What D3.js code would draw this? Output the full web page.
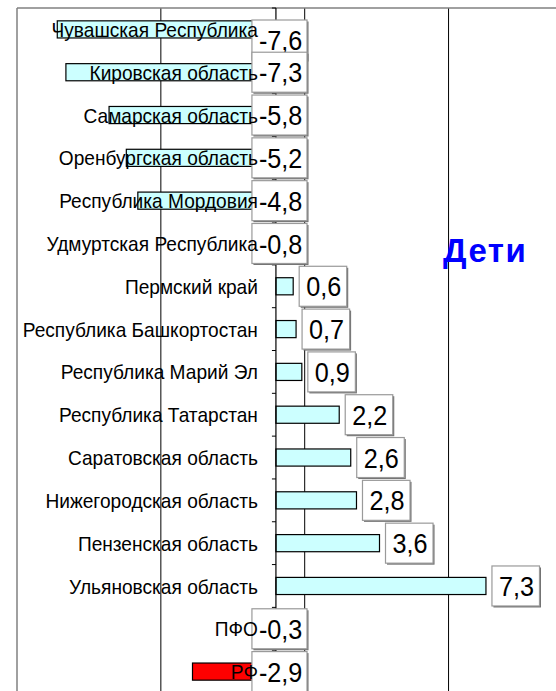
<!DOCTYPE html>
<html>
<head>
<meta charset="utf-8">
<script src="https://cdn.jsdelivr.net/npm/d3@7"></script>
<style>
  body { margin: 0; background: #fff; }
  text { font-family: "Liberation Sans", Arial, sans-serif; }
</style>
</head>
<body>
<svg id="chart" width="556" height="691"></svg>
<script>
// regions, top to bottom
var regions = ["Чувашская Республика", "Кировская область", "Самарская область",
  "Оренбургская область", "Республика Мордовия", "Удмуртская Республика",
  "Пермский край", "Республика Башкортостан", "Республика Марий Эл",
  "Республика Татарстан", "Саратовская область", "Нижегородская область",
  "Пензенская область", "Ульяновская область", "ПФО", "РФ"];
var values = [-7.6, -7.3, -5.8, -5.2, -4.8, -0.8, 0.6, 0.7, 0.9, 2.2, 2.6, 2.8, 3.6, 7.3, -0.3, -2.9];
var xDomain = [-9, 11];
var gridStep = 5;
var title = "Дети";

var svg = d3.select("#chart"),
    width = +svg.attr("width"),
    height = +svg.attr("height");

var plotLeft = 17, plotTop = 8, plotBottom = 693;
var x = d3.scaleLinear().domain(xDomain).range([plotLeft, plotLeft + 20 * 28.77]);
var y = d3.scaleBand().domain(regions).range([plotTop, plotBottom]).paddingInner(0.6).paddingOuter(0.3);
var step = y.step();
var data = regions.map(function(r, i) { return { name: r, value: values[i] }; });

// squeeze text horizontally a bit, like the original render
function squeeze(sel, k) {
    sel.each(function() {
        var w = this.getComputedTextLength();
        d3.select(this).attr("textLength", w * k).attr("lengthAdjust", "spacingAndGlyphs");
    });
}

// gridlines
svg.append("g").selectAll("line")
   .data(d3.range(xDomain[0] + gridStep, xDomain[1] + 1, gridStep))
   .enter().append("line")
   .attr("x1", function(d) { return x(d); })
   .attr("x2", function(d) { return x(d); })
   .attr("y1", plotTop).attr("y2", plotBottom)
   .attr("stroke", "#000").attr("stroke-width", 1);

// plot frame (top and left only visible)
svg.append("line").attr("x1", plotLeft).attr("x2", width).attr("y1", plotTop).attr("y2", plotTop)
   .attr("stroke", "#808080").attr("stroke-width", 1.5);
svg.append("line").attr("x1", plotLeft).attr("x2", plotLeft).attr("y1", plotTop).attr("y2", plotBottom)
   .attr("stroke", "#808080").attr("stroke-width", 1.5);

// bars
svg.append("g").selectAll("rect")
   .data(data)
   .enter().append("rect")
   .attr("x", function(d) { return x(Math.min(0, d.value)); })
   .attr("y", function(d) { return y(d.name); })
   .attr("width", function(d) { return Math.abs(x(d.value) - x(0)); })
   .attr("height", y.bandwidth())
   .attr("fill", function(d) { return d.name == "РФ" ? "#ff0000" : "#ccffff"; })
   .attr("stroke", "#000").attr("stroke-width", 1.2);

// category axis at zero with little ticks on the left
var axis = svg.append("g");
axis.append("line").attr("x1", x(0)).attr("x2", x(0)).attr("y1", plotTop).attr("y2", plotBottom)
    .attr("stroke", "#000").attr("stroke-width", 1.2);
axis.selectAll(".tk")
    .data(d3.range(0, regions.length + 1))
    .enter().append("line")
    .attr("class", "tk")
    .attr("x1", x(0) - 4).attr("x2", x(0))
    .attr("y1", function(i) { return plotTop + i * step; })
    .attr("y2", function(i) { return plotTop + i * step; })
    .attr("stroke", "#000");

// data labels in boxes
var lab = svg.append("g").selectAll("g")
   .data(data)
   .enter().append("g");
lab.each(function(d) {
    var g = d3.select(this);
    var t = g.append("text")
             .attr("font-size", "28px")
             .attr("fill", "#000")
             .text(String(d.value).replace(".", ","))
             .call(squeeze, 0.9);
    var tw = t.node().getComputedTextLength() * 0.9;
    var bw = tw + 16, bh = 40;
    var bx = d.value > 0 ? x(d.value) + 6 : x(0) - 24;
    var cy = y(d.name) + y.bandwidth() / 2;
    var by = Math.max(cy - bh / 2, plotTop + 12);
    g.insert("rect", "text")
     .attr("x", bx + 1.5).attr("y", by + 1.5).attr("width", bw).attr("height", bh)
     .attr("fill", "#707070");
    g.insert("rect", "text")
     .attr("x", bx).attr("y", by).attr("width", bw).attr("height", bh)
     .attr("fill", "#fff").attr("stroke", "#9a9a9a").attr("stroke-width", 1.2);
    t.attr("x", bx + 7).attr("y", by + bh / 2).attr("dy", "0.36em");
});

// category labels, drawn over bars and boxes
svg.append("g").selectAll("text")
   .data(data)
   .enter().append("text")
   .attr("x", x(0) - 18)
   .attr("y", function(d) { return y(d.name) + y.bandwidth() / 2; })
   .attr("dy", "0.36em")
   .attr("text-anchor", "end")
   .attr("font-size", "21px")
   .attr("fill", "#000")
   .text(function(d) { return d.name; })
   .call(squeeze, 0.91);

// title
svg.append("text")
   .attr("x", 443).attr("y", 262)
   .attr("font-family", "'Open Sans', sans-serif")
   .attr("font-weight", "bold")
   .attr("font-size", "33px")
   .attr("letter-spacing", "1.5px")
   .attr("fill", "#0000ff")
   .text(title);
</script>
</body>
</html>
